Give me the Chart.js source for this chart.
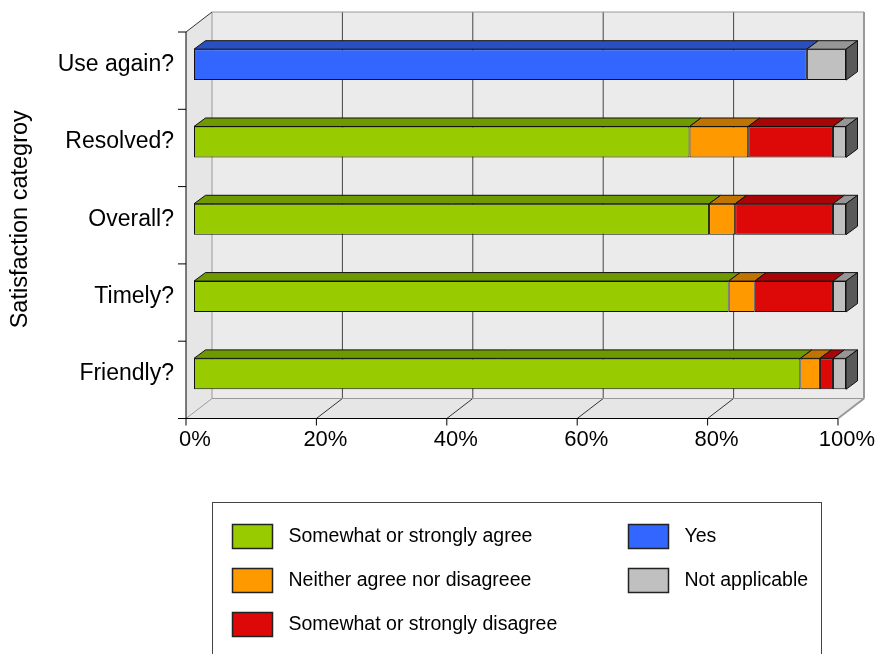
<!DOCTYPE html>
<html>
<head>
<meta charset="utf-8">
<script src="https://cdn.jsdelivr.net/npm/chart.js@4"></script>
<style>
body { margin: 0; background: #fff; }
#wrap { width: 875px; height: 654px; position: relative; }
</style>
</head>
<body>
<div id="wrap"><canvas id="mychart"></canvas></div>
<script>
var categories = ['Use again?', 'Resolved?', 'Overall?', 'Timely?', 'Friendly?'];
var agree = [null, 76, 79, 82, 93];
var neither = [null, 9, 4, 4, 3];
var disagree = [null, 13, 15, 12, 2];
var yes = [94, null, null, null, null];
var notApplicable = [6, 2, 2, 2, 2];
var xTicks = [0, 20, 40, 60, 80, 100];

var FONT = "'Liberation Sans', Arial, sans-serif";
// offsets of the front plane, back wall and bar depth from the bar plane
var FRONT = { dx: -8, dy: 6 };
var BACK = { dx: 18, dy: -14 };
var DEPTH = { dx: 11.5, dy: 8.5 };

function poly(ctx, pts, fill, stroke) {
    ctx.beginPath();
    ctx.moveTo(pts[0][0], pts[0][1]);
    for (var i = 1; i < pts.length; i++) ctx.lineTo(pts[i][0], pts[i][1]);
    ctx.closePath();
    if (fill) { ctx.fillStyle = fill; ctx.fill(); }
    if (stroke) { ctx.strokeStyle = stroke; ctx.lineWidth = 1; ctx.stroke(); }
}

function line(ctx, x1, y1, x2, y2, color, w) {
    ctx.beginPath();
    ctx.moveTo(x1, y1);
    ctx.lineTo(x2, y2);
    ctx.strokeStyle = color;
    ctx.lineWidth = w || 1;
    ctx.stroke();
}

var box3d = {
    id: 'box3d',
    beforeDatasetsDraw: function(chart) {
        var ctx = chart.ctx, a = chart.chartArea, xs = chart.scales.x, ys = chart.scales.y;
        var fl = a.left + FRONT.dx, fr = a.right + FRONT.dx, ft = a.top + FRONT.dy, fb = a.bottom + FRONT.dy;
        var bl = a.left + BACK.dx, br = a.right + BACK.dx, bt = a.top + BACK.dy, bb = a.bottom + BACK.dy;
        ctx.save();
        ctx.fillStyle = '#ebebeb';
        ctx.fillRect(bl, bt, br - bl, bb - bt);
        poly(ctx, [[fl, ft], [bl, bt], [bl, bb], [fl, fb]], '#e6e6e6');
        poly(ctx, [[fl, fb], [bl, bb], [br, bb], [fr, fb]], '#e6e6e6');

        xTicks.forEach(function(v) {
            var px = xs.getPixelForValue(v);
            if (v > 0 && v < 100) {
                line(ctx, px + BACK.dx, bt, px + BACK.dx, bb, '#444');
                line(ctx, px + BACK.dx, bb, px + FRONT.dx, fb, '#333');
            }
            line(ctx, px + FRONT.dx, fb, px + FRONT.dx, fb + 7, '#000');
        });
        line(ctx, bl, bt, br, bt, '#999');
        line(ctx, br, bt, br, bb, '#999', 2);
        line(ctx, bl, bt, bl, bb, '#999');
        line(ctx, bl, bb, br, bb, '#999');
        line(ctx, bl, bb, fl, fb, '#999');
        line(ctx, br, bb, fr, fb, '#999', 2);
        line(ctx, fl, ft, bl, bt, '#333');

        // axes on the front plane
        line(ctx, fl, ft, fl, fb, '#000');
        line(ctx, fl, fb, fr, fb, '#000');
        var step = ys.getPixelForValue(1) - ys.getPixelForValue(0);
        for (var i = 0; i <= categories.length; i++) {
            var py = ys.getPixelForValue(i) - step / 2 + FRONT.dy;
            line(ctx, fl - 8, py, fl, py, '#000');
        }
        ctx.restore();
    },
    afterDatasetsDraw: function(chart) {
        var ctx = chart.ctx;
        var last = [];
        chart.data.datasets.forEach(function(ds, d) {
            ds.data.forEach(function(v, i) { if (v != null) last[i] = d; });
        });
        ctx.save();
        chart.data.datasets.forEach(function(ds, d) {
            var meta = chart.getDatasetMeta(d);
            meta.data.forEach(function(bar, i) {
                if (ds.data[i] == null) return;
                var p = bar.getProps(['x', 'y', 'base', 'height'], true);
                var x0 = Math.min(p.base, p.x), x1 = Math.max(p.base, p.x);
                var top = p.y - p.height / 2, bottom = p.y + p.height / 2;
                poly(ctx, [[x0, top], [x1, top], [x1 + DEPTH.dx, top - DEPTH.dy], [x0 + DEPTH.dx, top - DEPTH.dy]], ds.topColor, '#111');
                if (last[i] === d) {
                    poly(ctx, [[x1, top], [x1 + DEPTH.dx, top - DEPTH.dy], [x1 + DEPTH.dx, bottom - DEPTH.dy], [x1, bottom]], ds.sideColor, '#111');
                }
            });
        });
        ctx.restore();
    },
    afterDraw: function(chart) {
        var ctx = chart.ctx;
        ctx.save();
        ctx.strokeStyle = '#444';
        ctx.lineWidth = 1;
        ctx.strokeRect(212.5, 502.5, 609, 170);
        var cols = [[0, 1, 2], [3, 4]];
        var colX = [232.5, 628.5];
        ctx.font = '19.5px ' + FONT;
        ctx.textBaseline = 'middle';
        cols.forEach(function(list, c) {
            list.forEach(function(d, r) {
                var ds = chart.data.datasets[d];
                var sy = 524.5 + r * 44;
                ctx.fillStyle = ds.backgroundColor;
                ctx.fillRect(colX[c], sy, 40, 24);
                ctx.strokeStyle = '#222';
                ctx.lineWidth = 1.5;
                ctx.strokeRect(colX[c], sy, 40, 24);
                ctx.fillStyle = '#000';
                ctx.fillText(ds.label, colX[c] + 56, sy + 12);
            });
        });
        ctx.restore();
    }
};

function makeSet(label, data, color, top, side) {
    return {
        label: label,
        data: data,
        backgroundColor: color,
        topColor: top,
        sideColor: side,
        borderColor: '#111',
        borderWidth: 1,
        borderSkipped: false,
        barPercentage: 0.4,
        categoryPercentage: 1
    };
}

var ctx = document.getElementById('mychart');
var myChart = new Chart(ctx, {
    type: 'bar',
    data: {
        labels: categories,
        datasets: [
            makeSet('Somewhat or strongly agree', agree, '#99cc00', '#6e9900', '#4d6b00'),
            makeSet('Neither agree nor disagreee', neither, '#ff9900', '#c07300', '#8a5200'),
            makeSet('Somewhat or strongly disagree', disagree, '#dd0808', '#a80606', '#700404'),
            makeSet('Yes', yes, '#3366ff', '#2a50c0', '#1c3680'),
            makeSet('Not applicable', notApplicable, '#c0c0c0', '#969696', '#595959')
        ]
    },
    options: {
        indexAxis: 'y',
        responsive: true,
        maintainAspectRatio: false,
        animation: false,
        layout: { padding: { top: 26, right: 29, left: 0, bottom: 0 } },
        plugins: { legend: { display: false }, tooltip: { enabled: false } },
        scales: {
            x: {
                stacked: true,
                min: 0,
                max: 100,
                grid: { display: false, drawTicks: false },
                border: { display: false },
                afterBuildTicks: function(scale) {
                    scale.ticks = xTicks.map(function(v) { return { value: v }; });
                },
                afterFit: function(scale) {
                    scale.height = 241.5;
                    scale.paddingLeft = 0;
                    scale.paddingRight = 0;
                },
                ticks: {
                    padding: 14,
                    labelOffset: 1,
                    color: '#000',
                    maxRotation: 0,
                    font: { family: FONT, size: 22 },
                    callback: function(v) { return v + '%'; }
                }
            },
            y: {
                stacked: true,
                grid: { display: false, drawTicks: false },
                border: { display: false },
                afterFit: function(scale) {
                    scale.width = 194;
                    scale.paddingTop = 0;
                    scale.paddingBottom = 0;
                },
                ticks: { padding: 20, color: '#000', font: { family: FONT, size: 23 } },
                title: {
                    display: true,
                    text: 'Satisfaction categroy',
                    color: '#000',
                    padding: 6,
                    font: { family: FONT, size: 23.5 }
                }
            }
        }
    },
    plugins: [box3d]
});
</script>
</body>
</html>
